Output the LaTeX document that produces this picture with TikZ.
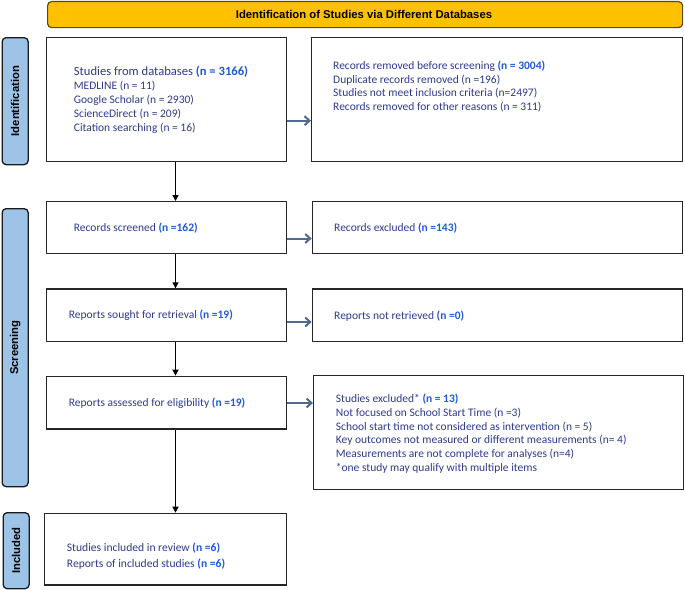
\documentclass[tikz,border=0pt]{standalone}
\usepackage{fontspec}
\setmainfont{Carlito}
\newfontfamily\hdfont{Liberation Sans}
\usetikzlibrary{arrows.meta}
\definecolor{txtblue}{HTML}{2E3B8E}
\definecolor{numblue}{HTML}{1F5AD6}
\definecolor{hdfill}{HTML}{FFC000}
\definecolor{hdline}{HTML}{5A4A10}
\definecolor{sidefill}{HTML}{9DC3E6}
\definecolor{sideline}{HTML}{1A1A1A}
\definecolor{arrblue}{HTML}{4F6A8F}
\definecolor{boxline}{HTML}{262626}
\newcommand{\nn}[1]{\textbf{\color{numblue}#1}}
\tikzset{
  boxnode/.style={draw=boxline, line width=1.3pt, fill=white, anchor=north west, inner sep=0pt},
  sidenode/.style={draw=sideline, line width=1.3pt, fill=sidefill, rounded corners=4pt, anchor=north west, inner sep=0pt, minimum width=26pt},
  sidetext/.style={rotate=90, font=\hdfont\bfseries\fontsize{11.3}{13}\selectfont, text=black, inner sep=0pt},
  boxtext/.style={anchor=west, align=left, inner sep=0pt, text=txtblue, font=\fontsize{11.5}{13.8}\selectfont},
  downarrow/.style={draw=black, line width=1.3pt, -{Triangle[length=6pt,width=6pt]}},
  sidearrow/.style={draw=arrblue, line width=2pt, -{Straight Barb[length=5pt,width=9pt,line width=2pt]}},
}
\begin{document}
\begin{tikzpicture}[x=1pt,y=-1pt]
\useasboundingbox (0,0) rectangle (685,589);
% header
\node[draw=hdline, line width=1.2pt, fill=hdfill, rounded corners=4pt, anchor=north west, minimum width=635pt, minimum height=26pt, inner sep=0pt] (hdr) at (47,1) {};
\node[font=\hdfont\bfseries\fontsize{11.3}{13}\selectfont, text=black, inner sep=0pt] (hdrt) at (364,14) {Identification of Studies via Different Databases};
% side labels
\node[sidenode, minimum height=127pt] (sid) at (1.5,37) {};
\node[sidetext] (sidt) at (sid.center) {Identification};
\node[sidenode, minimum height=278pt] (scr) at (1.5,208) {};
\node[sidetext] (scrt) at (scr.center) {Screening};
\node[sidenode, minimum height=76pt] (inc) at (2.5,512) {};
\node[sidetext] (inct) at (inc.center) {Included};
% left boxes
\node[boxnode, minimum width=240pt, minimum height=124pt] (b1) at (46,37) {};
\node[boxnode, minimum width=240pt, minimum height=52pt] (b2) at (46,201) {};
\node[boxnode, minimum width=240pt, minimum height=52.5pt] (b3) at (46,288.3) {};
\node[boxnode, minimum width=240pt, minimum height=52.5pt] (b4) at (46,375.7) {};
\node[boxnode, minimum width=242pt, minimum height=71.5pt] (b5) at (44,512.7) {};
% right boxes
\node[boxnode, minimum width=371pt, minimum height=124pt] (r1) at (311,37) {};
\node[boxnode, minimum width=370pt, minimum height=52pt] (r2) at (311.7,201) {};
\node[boxnode, minimum width=370pt, minimum height=52.5pt] (r3) at (311.7,288.3) {};
\node[boxnode, minimum width=370pt, minimum height=114pt] (r4) at (313,375) {};
% texts
\node[boxtext] (t1) at (73.7,99.8) {{\fontsize{12.6}{13.8}\selectfont Studies from databases \nn{(n = 3166)}}\\MEDLINE (n = 11)\\Google Scholar (n = 2930)\\ScienceDirect (n = 209)\\Citation searching (n = 16)};
\node[boxtext] (tr1) at (333,86.6) {Records removed before screening \nn{(n = 3004)}\\Duplicate records removed (n =196)\\Studies not meet inclusion criteria (n=2497)\\Records removed for other reasons (n = 311)};
\node[boxtext] (t2) at (73.7,227.7) {Records screened \nn{(n =162)}};
\node[boxtext] (tr2) at (334,227.7) {Records excluded \nn{(n =143)}};
\node[boxtext] (t3) at (68.7,315.7) {Reports sought for retrieval \nn{(n =19)}};
\node[boxtext] (tr3) at (334,315.7) {Reports not retrieved \nn{(n =0)}};
\node[boxtext] (t4) at (68.7,403) {Reports assessed for eligibility \nn{(n =19)}};
\node[boxtext] (tr4) at (335.7,433.7) {Studies excluded* \nn{(n = 13)}\\Not focused on School Start Time (n =3)\\School start time not considered as intervention (n = 5)\\Key outcomes not measured or different measurements (n= 4)\\Measurements are not complete for analyses (n=4)\\*one study may qualify with multiple items};
\node[boxtext, font=\fontsize{11.6}{15.7}\selectfont] (t5) at (66.7,556) {Studies included in review \nn{(n =6)}\\Reports of included studies \nn{(n =6)}};
% vertical arrows
\draw[downarrow] (b1.south -| 175.5,0) -- (b2.north -| 175.5,0);
\draw[downarrow] (b2.south -| 175.5,0) -- (b3.north -| 175.5,0);
\draw[downarrow] (b3.south -| 175.5,0) -- (b4.north -| 175.5,0);
\draw[downarrow] (b4.south -| 175.5,0) -- (b5.north -| 175.5,0);
% side arrows
\draw[sidearrow] (b1.east |- 0,120.7) -- (r1.west |- 0,120.7);
\draw[sidearrow] (b2.east |- 0,238.5) -- (r2.west |- 0,238.5);
\draw[sidearrow] (b3.east |- 0,322) -- (r3.west |- 0,322);
\draw[sidearrow] (b4.east |- 0,403) -- (r4.west |- 0,403);
\end{tikzpicture}
\end{document}
